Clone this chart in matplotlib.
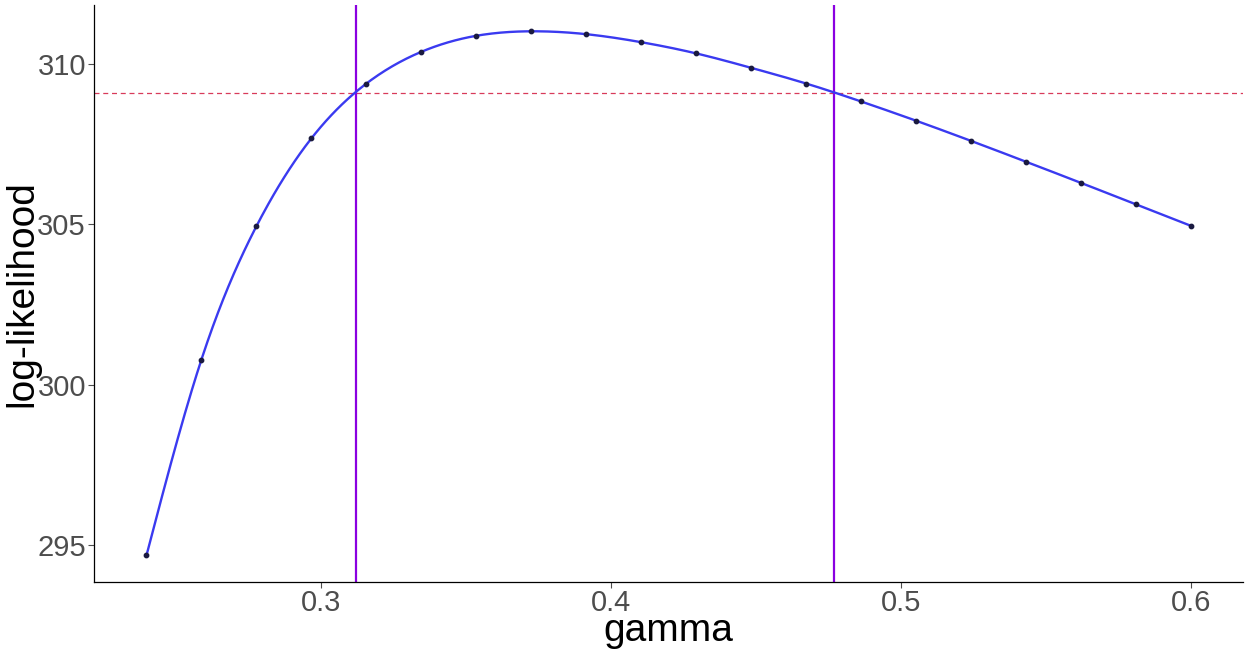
import numpy as np
import matplotlib
matplotlib.use("Agg")
import matplotlib.pyplot as plt

gamma = [0.24, 0.258947, 0.277895, 0.296842, 0.315789, 0.334737, 0.353684,
         0.372632, 0.391579, 0.410526, 0.429474, 0.448421, 0.467368, 0.486316,
         0.505263, 0.524211, 0.543158, 0.562105, 0.581053, 0.6]
loglik = [294.67, 300.78, 304.94, 307.68, 309.39, 310.38, 310.88, 311.02,
          310.93, 310.68, 310.33, 309.88, 309.39, 308.83, 308.23, 307.60,
          306.95, 306.29, 305.62, 304.95]
ci_bounds = [0.3121, 0.4770]
cutoff = 309.09
x_ticks = [0.3, 0.4, 0.5, 0.6]
y_ticks = [295, 300, 305, 310]


def natural_spline(x, y, xs):
    x = np.asarray(x, float); y = np.asarray(y, float)
    n = len(x)
    h = np.diff(x)
    A = np.zeros((n, n)); r = np.zeros(n)
    A[0, 0] = 1; A[-1, -1] = 1
    for i in range(1, n - 1):
        A[i, i - 1] = h[i - 1]
        A[i, i] = 2 * (h[i - 1] + h[i])
        A[i, i + 1] = h[i]
        r[i] = 3 * ((y[i + 1] - y[i]) / h[i] - (y[i] - y[i - 1]) / h[i - 1])
    c = np.linalg.solve(A, r)
    b = (y[1:] - y[:-1]) / h - h * (2 * c[:-1] + c[1:]) / 3
    d = (c[1:] - c[:-1]) / (3 * h)
    idx = np.clip(np.searchsorted(x, xs) - 1, 0, n - 2)
    dx = xs - x[idx]
    return y[idx] + b[idx] * dx + c[idx] * dx ** 2 + d[idx] * dx ** 3


plt.rcParams['font.family'] = ['Liberation Sans', 'DejaVu Sans']

W, H = 1250, 650
fig = plt.figure(figsize=(12.5, 6.5), dpi=100)
ax = fig.add_axes([0.0754, 0.1051, 0.9192, 0.8872])

xs = np.linspace(min(gamma), max(gamma), 600)
ax.plot(xs, natural_spline(gamma, loglik, xs), color='#3A3AF0', lw=1.7, zorder=3)
ax.scatter(gamma, loglik, s=10, color='#1a1a40', zorder=4)

ax.axhline(cutoff, color='#D83A5A', lw=0.9, ls=(0, (4, 3)), zorder=2)
for b in ci_bounds:
    ax.axvline(b, color='#8A00E0', lw=1.6, zorder=2)

ax.set_xlim(0.222, 0.618)
ax.set_ylim(293.85, 311.84)
ax.set_xticks(x_ticks)
ax.set_xticklabels([str(t) for t in x_ticks])
ax.set_yticks(y_ticks)
ax.set_yticklabels([str(t) for t in y_ticks])

for s in ['top', 'right']:
    ax.spines[s].set_visible(False)
for s in ['left', 'bottom']:
    ax.spines[s].set_linewidth(0.9)
    ax.spines[s].set_color('black')

ax.tick_params(axis='x', labelsize=21, colors='#4D4D4D', length=4, width=0.8, pad=1)
ax.tick_params(axis='y', labelsize=21, colors='#4D4D4D', length=4, width=0.8, pad=2)

fig.text(668.8 / W, 1 - 641 / H, 'gamma', fontsize=28, color='black',
         ha='center', va='baseline')
fig.text(32 / W, 1 - 294 / H, 'log-likelihood', fontsize=28, color='black',
         ha='center', va='baseline', rotation=90, rotation_mode='anchor')

fig.savefig('out.png', dpi=100)
